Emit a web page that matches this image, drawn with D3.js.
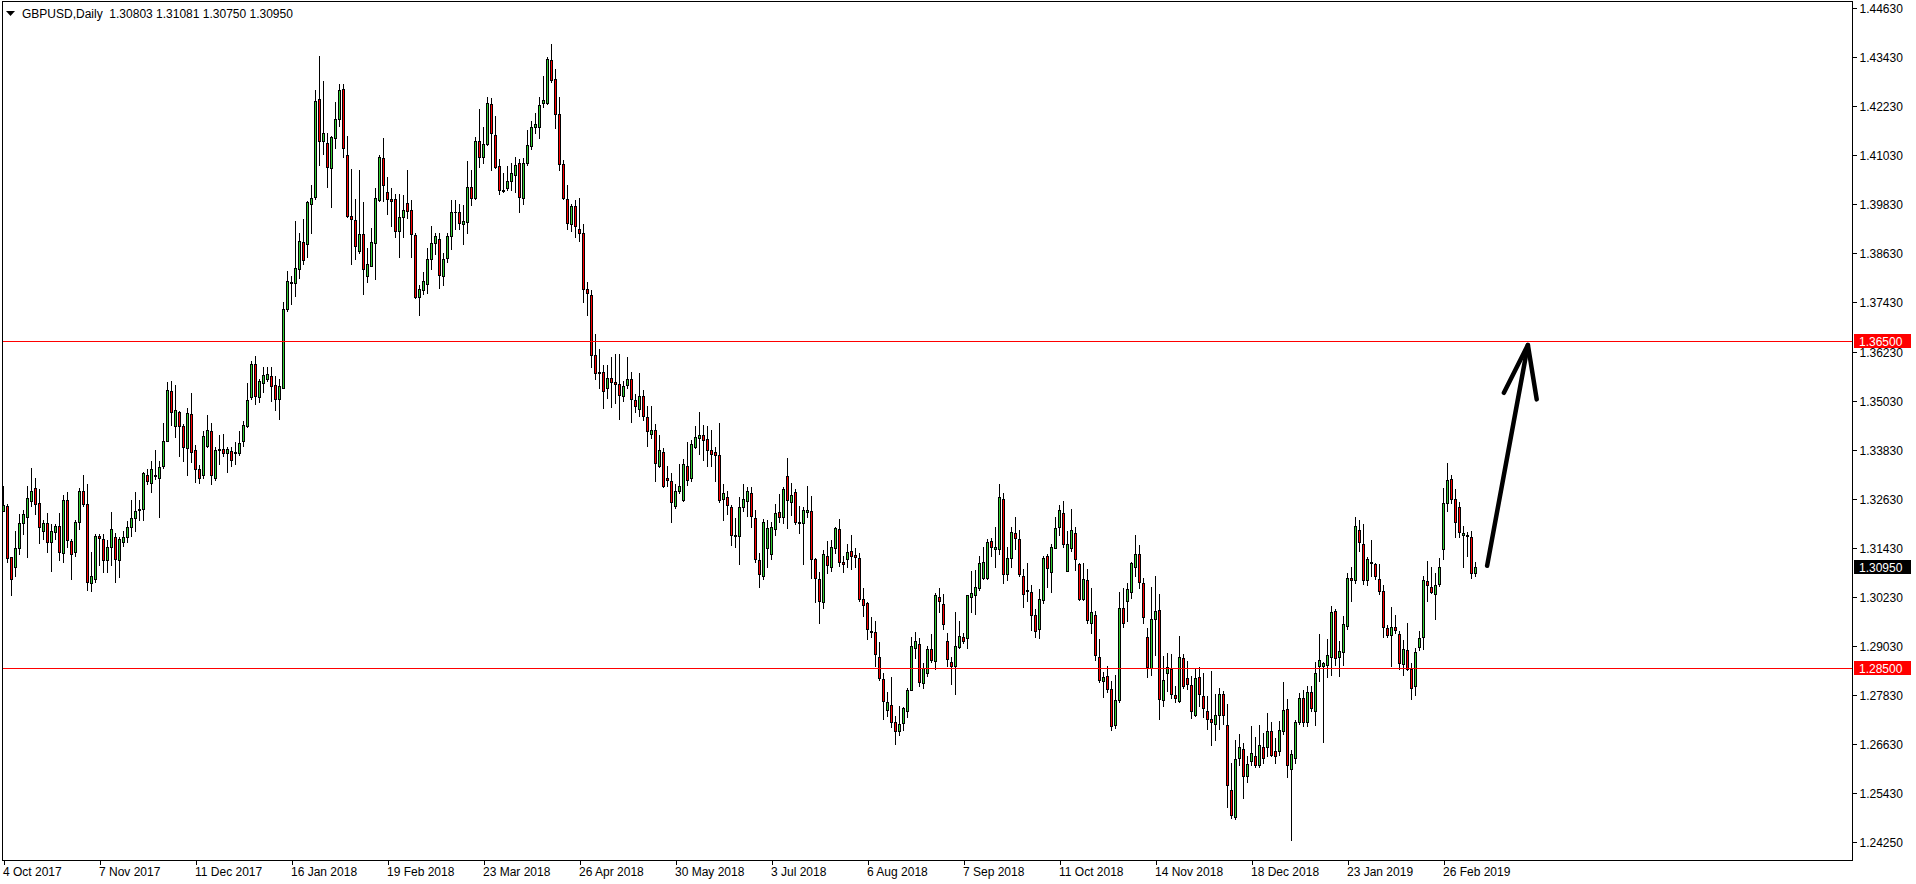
<!DOCTYPE html>
<html><head><meta charset="utf-8">
<script src="https://cdn.jsdelivr.net/npm/d3@7"></script>
<style>
html,body{margin:0;padding:0;background:#fff;overflow:hidden;}
svg{display:block;}
text{font-family:"Liberation Sans",Arial,sans-serif;font-size:12px;fill:#000;white-space:pre;}
</style></head><body>
<svg id="chart" width="1916" height="884"></svg>
<script>
const symbolTitle = "GBPUSD,Daily";
const lastQuote = [1.30803, 1.31081, 1.30750, 1.30950];

const dateLabels = ["4 Oct 2017","7 Nov 2017","11 Dec 2017","16 Jan 2018","19 Feb 2018","23 Mar 2018","26 Apr 2018","30 May 2018","3 Jul 2018","6 Aug 2018","7 Sep 2018","11 Oct 2018","14 Nov 2018","18 Dec 2018","23 Jan 2019","26 Feb 2019"];
const dateLabelBars = [0,24,48,72,96,120,144,168,192,216,240,264,288,312,336,360];

const priceTicks = [1.4463,1.4343,1.4223,1.4103,1.3983,1.3863,1.3743,1.3623,1.3503,1.3383,1.3263,1.3143,1.3023,1.2903,1.2783,1.2663,1.2543,1.2425];
const priceMin = 1.2425, priceMax = 1.4463;

const levelLines = [1.36500, 1.28500];
const currentPrice = 1.30950;

// arrow annotation: [bar index, price]
const arrowShaft = [[370.9,1.3099],[381.1,1.3639]];
const arrowHead = [[375.1,1.3522],[381.1,1.3639],[383.3,1.3506]];

const opens = [
1.3234,1.3246,1.3121,1.3096,1.3143,1.3204,1.3219,1.3257,1.3289,1.3252,
1.3183,1.3204,1.3158,1.3182,1.3196,1.3130,1.3259,1.3160,1.3132,1.3206,
1.3283,1.3250,1.3058,1.3068,1.3171,1.3164,1.3113,1.3145,1.3169,1.3114,
1.3157,1.3170,1.3193,1.3217,1.3236,1.3237,1.3320,1.3302,1.3320,1.3313,
1.3344,1.3405,1.3527,1.3440,1.3475,1.3442,1.3387,1.3471,1.3382,1.3337,
1.3320,1.3391,1.3429,1.3313,1.3382,1.3385,1.3374,1.3381,1.3375,1.3374,
1.3405,1.3442,1.3512,1.3593,1.3512,1.3547,1.3557,1.3564,1.3540,1.3506,
1.3534,1.3726,1.3790,1.3791,1.3826,1.3890,1.3885,1.3983,1.4002,1.4241,
1.4139,1.4133,1.4071,1.4145,1.4191,1.4265,1.4103,1.3954,1.3944,1.3870,
1.3911,1.3807,1.3833,1.3889,1.3994,1.4096,1.4013,1.3995,1.3995,1.3917,
1.3953,1.3986,1.3969,1.3908,1.3757,1.3774,1.3789,1.3849,1.3889,1.3898,
1.3807,1.3851,1.3905,1.3965,1.3965,1.3936,1.3940,1.4025,1.3998,1.4138,
1.4098,1.4131,1.4228,1.4152,1.4076,1.4019,1.4024,1.4041,1.4054,1.4083,
1.3999,1.4085,1.4125,1.4173,1.4173,1.4230,1.4230,1.4335,1.4289,1.4203,
1.4081,1.3995,1.3934,1.3978,1.3923,1.3912,1.3776,1.3761,1.3614,1.3570,
1.3573,1.3534,1.3559,1.3548,1.3544,1.3515,1.3542,1.3556,1.3504,1.3483,
1.3514,1.3464,1.3422,1.3432,1.3344,1.3378,1.3313,1.3306,1.3245,1.3283,
1.3260,1.3344,1.3315,1.3390,1.3411,1.3418,1.3409,1.3382,1.3378,1.3369,
1.3262,1.3268,1.3243,1.3174,1.3171,1.3243,1.3257,1.3277,1.3215,1.3113,
1.3075,1.3142,1.3127,1.3188,1.3230,1.3218,1.3319,1.3256,1.3279,1.3205,
1.3203,1.3230,1.3233,1.3116,1.3067,1.3010,1.3123,1.3097,1.3142,1.3189,
1.3109,1.3115,1.3135,1.3126,1.3118,1.3017,1.3009,1.2940,1.2937,1.2876,
1.2822,1.2747,1.2759,1.2716,1.2694,1.2714,1.2743,1.2796,1.2897,1.2907,
1.2812,1.2836,1.2896,1.2866,1.3022,1.3006,1.2915,1.2865,1.2853,1.2900,
1.2924,1.2922,1.3022,1.3028,1.3044,1.3069,1.3069,1.3160,1.3139,1.3140,
1.3263,1.3079,1.3117,1.3179,1.3164,1.3074,1.3040,1.3034,1.2980,1.2944,
1.3016,1.3122,1.3085,1.3142,1.3193,1.3228,1.3087,1.3142,1.3179,1.3103,
1.3017,1.3065,1.2960,1.2979,1.2876,1.2818,1.2830,1.2797,1.2710,1.2771,
1.2995,1.3012,1.3034,1.3095,1.3127,1.3056,1.2924,1.2849,1.2968,1.2991,
1.2771,1.2838,1.2846,1.2783,1.2769,1.2873,1.2824,1.2808,1.2734,1.2827,
1.2781,1.2744,1.2724,1.2712,1.2734,1.2785,1.2710,1.2551,1.2486,1.2629,
1.2651,1.2585,1.2622,1.2634,1.2612,1.2657,1.2657,1.2694,1.2647,1.2647,
1.2694,1.2749,1.2602,1.2629,1.2718,1.2777,1.2716,1.2790,1.2743,1.2853,
1.2855,1.2857,1.2877,1.2989,1.2875,1.2889,1.2952,1.3069,1.3065,1.3187,
1.3152,1.3065,1.3107,1.3104,1.3066,1.3038,1.2946,1.2930,1.2949,1.2932,
1.2859,1.2893,1.2846,1.2804,1.2901,1.2924,1.3062,1.3048,1.3030,1.3055,
1.3140,1.3252,1.3311,1.3262,1.3242,1.3174,1.3173,1.3169,1.30803];

const highs = [
1.3294,1.3250,1.3121,1.3184,1.3225,1.3236,1.3294,1.3339,1.3313,1.3287,
1.3211,1.3228,1.3202,1.3202,1.3228,1.3272,1.3280,1.3164,1.3211,1.3289,
1.3322,1.3300,1.3132,1.3176,1.3176,1.3176,1.3163,1.3231,1.3180,1.3170,
1.3184,1.3209,1.3260,1.3280,1.3260,1.3328,1.3337,1.3355,1.3383,1.3355,
1.3448,1.3549,1.3551,1.3540,1.3477,1.3445,1.3486,1.3522,1.3394,1.3346,
1.3429,1.3468,1.3449,1.3390,1.3420,1.3422,1.3390,1.3390,1.3403,1.3429,
1.3452,1.3547,1.3601,1.3612,1.3555,1.3586,1.3586,1.3586,1.3564,1.3555,
1.3743,1.3820,1.3807,1.3942,1.3913,1.3946,1.3990,1.4029,1.4263,1.4346,
1.4284,1.4158,1.4151,1.4232,1.4276,1.4278,1.4151,1.4069,1.3995,1.4066,
1.3988,1.3877,1.3926,1.4022,1.4104,1.4144,1.4049,1.4024,1.4007,1.4007,
1.4005,1.4068,1.3994,1.3914,1.3786,1.3817,1.3876,1.3929,1.3912,1.3912,
1.3864,1.3912,1.3994,1.3994,1.3984,1.3982,1.4089,1.4068,1.4148,1.4216,
1.4172,1.4245,1.4243,1.4199,1.4095,1.4060,1.4077,1.4085,1.4098,1.4094,
1.4096,1.4165,1.4186,1.4207,1.4245,1.4297,1.4344,1.4376,1.4314,1.4245,
1.4091,1.4030,1.3984,1.3994,1.3998,1.3934,1.3793,1.3774,1.3666,1.3630,
1.3591,1.3590,1.3609,1.3618,1.3618,1.3550,1.3609,1.3573,1.3518,1.3571,
1.3529,1.3491,1.3491,1.3445,1.3420,1.3386,1.3342,1.3327,1.3298,1.3348,
1.3361,1.3403,1.3407,1.3441,1.3475,1.3443,1.3441,1.3432,1.3390,1.3449,
1.3299,1.3283,1.3247,1.3215,1.3268,1.3300,1.3291,1.3291,1.3236,1.3130,
1.3214,1.3210,1.3207,1.3250,1.3275,1.3291,1.3362,1.3301,1.3286,1.3245,
1.3242,1.3294,1.3270,1.3118,1.3085,1.3138,1.3160,1.3161,1.3195,1.3214,
1.3122,1.3152,1.3174,1.3142,1.3130,1.3044,1.3011,1.2974,1.2963,1.2914,
1.2836,1.2791,1.2828,1.2732,1.2757,1.2755,1.2800,1.2924,1.2937,1.2922,
1.2861,1.2903,1.2932,1.3032,1.3044,1.3030,1.2934,1.2877,1.2985,1.2965,
1.2936,1.3028,1.3087,1.3089,1.3124,1.3146,1.3164,1.3166,1.3195,1.3299,
1.3276,1.3146,1.3193,1.3218,1.3187,1.3091,1.3107,1.3052,1.2993,1.3042,
1.3123,1.3128,1.3152,1.3218,1.3248,1.3258,1.3183,1.3238,1.3195,1.3107,
1.3105,1.3091,1.3044,1.2989,1.2919,1.2840,1.2853,1.2818,1.2832,1.3036,
1.3044,1.3058,1.3109,1.3174,1.3150,1.3069,1.2946,1.3048,1.3073,1.3030,
1.2879,1.2887,1.2884,1.2804,1.2928,1.2884,1.2866,1.2830,1.2850,1.2851,
1.2838,1.2781,1.2842,1.2786,1.2800,1.2793,1.2761,1.2616,1.2673,1.2687,
1.2665,1.2634,1.2708,1.2680,1.2710,1.2690,1.2738,1.2718,1.2677,1.2720,
1.2816,1.2773,1.2649,1.2721,1.2787,1.2796,1.2806,1.2806,1.2865,1.2932,
1.2865,1.2919,1.3001,1.2993,1.2916,1.2976,1.3082,1.3097,1.3219,1.3211,
1.3201,1.3120,1.3161,1.3105,1.3104,1.3052,1.2954,1.2999,1.2979,1.2940,
1.2918,1.2960,1.2861,1.2897,1.2940,1.3073,1.3111,1.3097,1.3081,1.3117,
1.3289,1.3350,1.3320,1.3286,1.3254,1.3197,1.3181,1.3185,1.31081];

const lows = [
1.3232,1.3108,1.3027,1.3075,1.3129,1.3176,1.3121,1.3246,1.3225,1.3154,
1.3164,1.3132,1.3087,1.3165,1.3113,1.3108,1.3145,1.3068,1.3123,1.3189,
1.3246,1.3040,1.3038,1.3060,1.3102,1.3084,1.3084,1.3102,1.3060,1.3071,
1.3148,1.3158,1.3171,1.3184,1.3211,1.3212,1.3300,1.3279,1.3311,1.3219,
1.3339,1.3405,1.3444,1.3414,1.3368,1.3356,1.3320,1.3354,1.3305,1.3302,
1.3315,1.3390,1.3300,1.3309,1.3348,1.3368,1.3328,1.3343,1.3348,1.3371,
1.3391,1.3438,1.3508,1.3494,1.3500,1.3523,1.3551,1.3503,1.3481,1.3458,
1.3534,1.3723,1.3739,1.3758,1.3804,1.3837,1.3855,1.3913,1.3996,1.4079,
1.4105,1.4025,1.3977,1.4120,1.4175,1.4098,1.3953,1.3837,1.3850,1.3863,
1.3763,1.3793,1.3832,1.3800,1.3992,1.3992,1.3959,1.3929,1.3904,1.3855,
1.3904,1.3950,1.3855,1.3754,1.3712,1.3763,1.3765,1.3824,1.3862,1.3779,
1.3786,1.3841,1.3873,1.3923,1.3923,1.3887,1.3912,1.3981,1.3996,1.4074,
1.4083,1.4129,1.4066,1.4072,1.4008,1.4012,1.4018,1.4018,1.4013,1.3963,
1.3984,1.4078,1.4119,1.4158,1.4144,1.4220,1.4228,1.4283,1.4169,1.4068,
1.3997,1.3923,1.3917,1.3902,1.3894,1.3744,1.3712,1.3586,1.3555,1.3534,
1.3486,1.3510,1.3487,1.3498,1.3459,1.3502,1.3534,1.3451,1.3475,1.3466,
1.3455,1.3392,1.3411,1.3306,1.3340,1.3291,1.3295,1.3205,1.3241,1.3277,
1.3257,1.3296,1.3306,1.3386,1.3372,1.3357,1.3344,1.3344,1.3306,1.3256,
1.3211,1.3226,1.3150,1.3146,1.3104,1.3232,1.3222,1.3193,1.3108,1.3048,
1.3067,1.3095,1.3116,1.3174,1.3207,1.3203,1.3191,1.3223,1.3201,1.3180,
1.3103,1.3219,1.3070,1.3010,1.2959,1.2995,1.3082,1.3087,1.3131,1.3099,
1.3083,1.3097,1.3091,1.3097,1.3013,1.2976,1.2919,1.2924,1.2853,1.2820,
1.2724,1.2732,1.2706,1.2664,1.2686,1.2698,1.2729,1.2796,1.2873,1.2804,
1.2800,1.2830,1.2865,1.2846,1.2985,1.2944,1.2855,1.2809,1.2786,1.2897,
1.2911,1.2897,1.2987,1.2981,1.3040,1.3067,1.3067,1.3122,1.3097,1.3128,
1.3056,1.3064,1.3097,1.3139,1.3073,1.2999,1.3012,1.2942,1.2926,1.2922,
1.3008,1.3048,1.3034,1.3142,1.3174,1.3146,1.3087,1.3136,1.3089,1.3016,
1.3016,1.2959,1.2936,1.2869,1.2814,1.2778,1.2791,1.2698,1.2702,1.2765,
1.2950,1.2963,1.3020,1.3074,1.3044,1.2959,1.2827,1.2832,1.2881,1.2724,
1.2757,1.2794,1.2777,1.2765,1.2767,1.2800,1.2797,1.2726,1.2732,1.2757,
1.2729,1.2699,1.2661,1.2673,1.2699,1.2712,1.2509,1.2482,1.2479,1.2612,
1.2531,1.2571,1.2611,1.2606,1.2608,1.2618,1.2634,1.2633,1.2616,1.2637,
1.2687,1.2582,1.2429,1.2616,1.2712,1.2708,1.2708,1.2743,1.2710,1.2818,
1.2669,1.2827,1.2832,1.2857,1.2830,1.2857,1.2944,1.3012,1.3058,1.3136,
1.3054,1.3052,1.3073,1.3066,1.3029,1.2924,1.2926,1.2853,1.2934,1.2846,
1.2832,1.2844,1.2773,1.2783,1.2893,1.2895,1.3012,1.3032,1.2968,1.3050,
1.3115,1.3232,1.3252,1.3170,1.3170,1.3097,1.3123,1.3069,1.30750];

const closes = [
1.3247,1.3119,1.3066,1.3143,1.3204,1.3225,1.3265,1.3283,1.3250,1.3193,
1.3204,1.3158,1.3184,1.3196,1.3132,1.3261,1.3161,1.3128,1.3206,1.3283,
1.3250,1.3060,1.3075,1.3171,1.3166,1.3114,1.3145,1.3189,1.3116,1.3164,
1.3169,1.3193,1.3215,1.3232,1.3239,1.3326,1.3307,1.3335,1.3318,1.3340,
1.3405,1.3529,1.3475,1.3480,1.3442,1.3390,1.3473,1.3378,1.3337,1.3315,
1.3417,1.3431,1.3320,1.3383,1.3385,1.3374,1.3385,1.3359,1.3377,1.3400,
1.3444,1.3505,1.3593,1.3514,1.3551,1.3566,1.3568,1.3538,1.3506,1.3538,
1.3726,1.3795,1.3794,1.3828,1.3893,1.3848,1.3989,1.3999,1.4235,1.4139,
1.4158,1.4075,1.4147,1.4191,1.4263,1.4120,1.3955,1.3948,1.3880,1.3911,
1.3824,1.3837,1.3890,1.3998,1.4099,1.4029,1.3995,1.3992,1.3917,1.3953,
1.3969,1.3966,1.3910,1.3757,1.3776,1.3796,1.3849,1.3889,1.3906,1.3811,
1.3849,1.3906,1.3965,1.3963,1.3938,1.3942,1.4025,1.3998,1.4138,1.4098,
1.4130,1.4231,1.4157,1.4075,1.4019,1.4015,1.4041,1.4060,1.4079,1.4001,
1.4085,1.4129,1.4173,1.4179,1.4226,1.4238,1.4338,1.4287,1.4203,1.4081,
1.3999,1.3938,1.3978,1.3929,1.3912,1.3776,1.3765,1.3614,1.3570,1.3573,
1.3527,1.3559,1.3548,1.3544,1.3517,1.3538,1.3556,1.3507,1.3489,1.3514,
1.3466,1.3428,1.3431,1.3350,1.3382,1.3294,1.3308,1.3256,1.3281,1.3294,
1.3347,1.3310,1.3396,1.3413,1.3418,1.3407,1.3382,1.3372,1.3369,1.3260,
1.3278,1.3247,1.3174,1.3171,1.3243,1.3262,1.3281,1.3222,1.3115,1.3078,
1.3205,1.3191,1.3193,1.3228,1.3219,1.3286,1.3260,1.3272,1.3205,1.3203,
1.3236,1.3236,1.3115,1.3069,1.3014,1.3128,1.3100,1.3146,1.3192,1.3109,
1.3103,1.3134,1.3124,1.3120,1.3017,1.3003,1.2944,1.2938,1.2883,1.2824,
1.2769,1.2766,1.2718,1.2696,1.2712,1.2751,1.2796,1.2904,1.2916,1.2816,
1.2849,1.2895,1.2870,1.3028,1.3012,1.2956,1.2871,1.2853,1.2904,1.2928,
1.2916,1.3028,1.3032,1.3048,1.3105,1.3108,1.3158,1.3146,1.3146,1.3268,
1.3079,1.3117,1.3181,1.3166,1.3078,1.3029,1.3038,1.2979,1.2940,1.3018,
1.3117,1.3093,1.3144,1.3191,1.3236,1.3152,1.3152,1.3187,1.3115,1.3017,
1.3067,1.2967,1.2985,1.2880,1.2820,1.2827,1.2799,1.2708,1.2771,1.2995,
1.2960,1.3042,1.3105,1.3127,1.3060,1.2975,1.2851,1.2968,1.2989,1.2773,
1.2820,1.2851,1.2786,1.2777,1.2875,1.2805,1.2810,1.2743,1.2824,1.2785,
1.2751,1.2724,1.2716,1.2734,1.2785,1.2734,1.2562,1.2490,1.2626,1.2657,
1.2584,1.2614,1.2641,1.2612,1.2661,1.2629,1.2695,1.2637,1.2634,1.2698,
1.2747,1.2612,1.2639,1.2718,1.2775,1.2716,1.2790,1.2751,1.2836,1.2869,
1.2861,1.2881,1.2985,1.2873,1.2892,1.2958,1.3069,1.3065,1.3197,1.3157,
1.3065,1.3115,1.3109,1.3075,1.3038,1.2950,1.2930,1.2950,1.2941,1.2861,
1.2895,1.2846,1.2800,1.2888,1.2922,1.3065,1.3051,1.3036,1.3051,1.3096,
1.3252,1.3309,1.3262,1.3205,1.3181,1.3179,1.3174,1.3081,1.30950];

const bullFill = "#32CD32", bearFill = "#FF0000";

const svg = d3.select("#chart");
const W = 1916, H = 884;
const plotRight = 1852, plotBottom = 860, plotLeft = 2, plotTop = 1;

const x = d3.scaleLinear().domain([0, opens.length - 1]).range([3, 3 + 4 * (opens.length - 1)]);
const y = d3.scaleLinear().domain([priceMin, priceMax]).range([841.5, 8]);
const py = p => Math.round(y(p));

const bars = opens.map((o, i) => ({i, o, h: highs[i], l: lows[i], c: closes[i]}));

svg.append("rect").attr("width", W).attr("height", H).attr("fill", "#fff");

const plot = svg.append("g").attr("shape-rendering", "crispEdges");

// wicks
plot.selectAll("rect.wick").data(bars).join("rect").attr("class", "wick")
  .attr("x", d => x(d.i)).attr("width", 1)
  .attr("y", d => py(d.h)).attr("height", d => Math.max(1, py(d.l) - py(d.h) + 1))
  .attr("fill", "#000");

// bodies (black outline)
plot.selectAll("rect.body").data(bars).join("rect").attr("class", "body")
  .attr("x", d => x(d.i) - 1).attr("width", 3)
  .attr("y", d => py(Math.max(d.o, d.c)))
  .attr("height", d => py(Math.min(d.o, d.c)) - py(Math.max(d.o, d.c)) + 1)
  .attr("fill", "#000");

// body fill
plot.selectAll("rect.fill").data(bars.filter(d => py(Math.min(d.o, d.c)) - py(Math.max(d.o, d.c)) > 1))
  .join("rect").attr("class", "fill")
  .attr("x", d => x(d.i)).attr("width", 1)
  .attr("y", d => py(Math.max(d.o, d.c)) + 1)
  .attr("height", d => py(Math.min(d.o, d.c)) - py(Math.max(d.o, d.c)) - 1)
  .attr("fill", d => d.c >= d.o ? bullFill : bearFill);

// horizontal level lines
plot.selectAll("rect.level").data(levelLines).join("rect").attr("class", "level")
  .attr("x", plotLeft).attr("width", plotRight - plotLeft)
  .attr("y", d => py(d)).attr("height", 1).attr("fill", "#FF0000");

// frame
const frame = svg.append("g").attr("shape-rendering", "crispEdges").attr("stroke", "#000").attr("fill", "none");
frame.append("line").attr("x1", plotLeft + 0.5).attr("x2", plotLeft + 0.5).attr("y1", plotTop).attr("y2", plotBottom + 1);
frame.append("line").attr("x1", plotLeft).attr("x2", plotRight + 1).attr("y1", plotTop + 0.5).attr("y2", plotTop + 0.5);
frame.append("line").attr("x1", plotRight + 0.5).attr("x2", plotRight + 0.5).attr("y1", plotTop).attr("y2", plotBottom + 1);
frame.append("line").attr("x1", plotLeft).attr("x2", plotRight + 1).attr("y1", plotBottom + 0.5).attr("y2", plotBottom + 0.5);

// price axis
const yAxis = d3.axisRight(y).tickValues(priceTicks).tickFormat(d3.format(".5f")).tickSize(4).tickPadding(3);
const gy = svg.append("g").attr("transform", `translate(${plotRight + 0.5},0)`).call(yAxis);
gy.select(".domain").remove();
gy.selectAll(".tick line").attr("stroke", "#000").attr("shape-rendering", "crispEdges");
gy.selectAll(".tick").attr("transform", d => `translate(0,${py(d) + 0.5})`);
gy.selectAll(".tick text").attr("font-family", "Liberation Sans, Arial, sans-serif").attr("font-size", 12).attr("fill", "#000").attr("dy", "0.34em");

// price label boxes
const boxes = levelLines.map(v => ({v, bg: "#FF0000"})).concat([{v: currentPrice, bg: "#000"}]);
const gb = svg.append("g");
gb.selectAll("rect").data(boxes).join("rect")
  .attr("x", plotRight + 2).attr("width", 57)
  .attr("y", d => py(d.v) - 7).attr("height", 14)
  .attr("fill", d => d.bg).attr("shape-rendering", "crispEdges");
gb.selectAll("text").data(boxes).join("text")
  .attr("x", plotRight + 7).attr("y", d => py(d.v) + 4.5)
  .style("fill", "#fff").text(d => d3.format(".5f")(d.v));

// time axis
const xAxis = d3.axisBottom(x).tickValues(dateLabelBars).tickFormat((d, i) => dateLabels[i]).tickSize(4).tickPadding(2);
const gx = svg.append("g").attr("transform", `translate(0.5,${plotBottom + 0.5})`).call(xAxis);
gx.select(".domain").remove();
gx.selectAll(".tick line").attr("stroke", "#000").attr("shape-rendering", "crispEdges");
gx.selectAll(".tick text").attr("text-anchor", "start").attr("x", -1).attr("y", 15).attr("dy", 0)
  .attr("font-family", "Liberation Sans, Arial, sans-serif").attr("font-size", 12).attr("fill", "#000");

// title
svg.append("path").attr("d", d3.line()([[6, 11], [15, 11], [10.5, 16]]) + "Z").attr("fill", "#000");
svg.append("text").attr("x", 22).attr("y", 17.5).attr("xml:space", "preserve")
  .text(symbolTitle + "  " + lastQuote.map(d3.format(".5f")).join(" "));

// arrow annotation
const line = d3.line().x(d => x(d[0]) + 0.5).y(d => y(d[1]));
const ga = svg.append("g").attr("fill", "none").attr("stroke", "#000").attr("stroke-width", 4.5)
  .attr("stroke-linecap", "round").attr("stroke-linejoin", "round");
ga.append("path").attr("d", line(arrowShaft));
ga.append("path").attr("d", line(arrowHead));
</script>
</body></html>
